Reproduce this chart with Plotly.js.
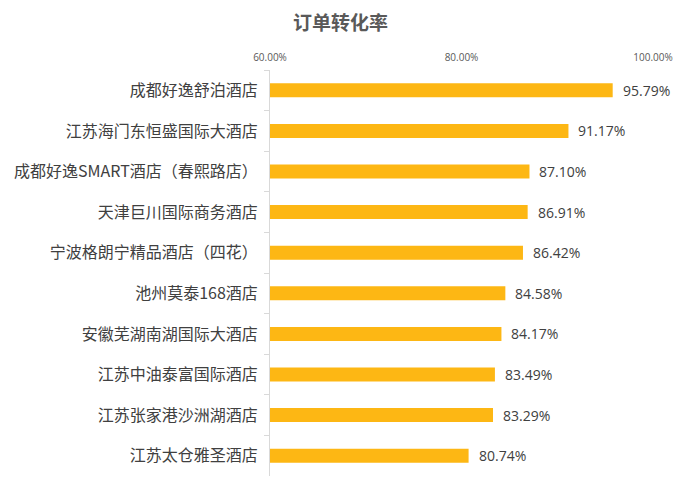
<!DOCTYPE html>
<html>
<head>
<meta charset="utf-8">
<script src="https://cdn.plot.ly/plotly-3.0.1.min.js"></script>
<style>html,body{margin:0;padding:0;background:#fff;}#chart{width:681px;height:492px;}</style>
</head>
<body>
<div id="chart"></div>
<script>
const hotels = [
  "成都好逸舒泊酒店",
  "江苏海门东恒盛国际大酒店",
  "成都好逸SMART酒店（春熙路店）",
  "天津巨川国际商务酒店",
  "宁波格朗宁精品酒店（四花）",
  "池州莫泰168酒店",
  "安徽芜湖南湖国际大酒店",
  "江苏中油泰富国际酒店",
  "江苏张家港沙洲湖酒店",
  "江苏太仓雅圣酒店"
];
const conversionRates = [0.9579, 0.9117, 0.8710, 0.8691, 0.8642, 0.8458, 0.8417, 0.8349, 0.8329, 0.8074];
const tickValues = [0.6, 0.8, 1.0];
const tickLabels = ["60.00%", "80.00%", "100.00%"];

const cjk = '"Microsoft YaHei", "Noto Sans CJK SC", sans-serif';

const trace = {
  type: 'bar',
  orientation: 'h',
  x: conversionRates,
  y: hotels,
  marker: {color: '#FDB714'},
  textposition: 'none',
  hoverinfo: 'skip',
  cliponaxis: false
};

const annotations = hotels.map((h, i) => ({
  x: conversionRates[i],
  y: h,
  xref: 'x',
  yref: 'y',
  text: (conversionRates[i] * 100).toFixed(2) + '%',
  showarrow: false,
  xanchor: 'left',
  xshift: 8,
  font: {family: '"Open Sans", sans-serif', size: 14, color: '#404040'}
}));

const layout = {
  width: 681,
  height: 492,
  margin: {l: 270, r: 28, t: 70, b: 16, pad: 0},
  paper_bgcolor: '#ffffff',
  plot_bgcolor: '#ffffff',
  showlegend: false,
  bargap: 0.655,
  title: {
    text: '订单转化率',
    x: 0.5,
    xref: 'container',
    xanchor: 'center',
    y: 0.953,
    yref: 'container',
    yanchor: 'middle',
    font: {family: cjk, size: 19, color: '#595959', weight: 'bold'}
  },
  xaxis: {
    side: 'top',
    range: [0.6, 1.0],
    tickvals: tickValues,
    ticktext: tickLabels,
    showgrid: false,
    zeroline: false,
    showline: false,
    ticks: '',
    ticklabelstandoff: 6,
    tickfont: {family: '"Open Sans", sans-serif', size: 10, color: '#595959'},
    fixedrange: true
  },
  yaxis: {
    type: 'category',
    autorange: 'reversed',
    showline: true,
    linecolor: '#d9d9d9',
    linewidth: 1,
    ticks: 'outside',
    tickson: 'boundaries',
    ticklen: 5,
    tickcolor: '#d9d9d9',
    showgrid: false,
    zeroline: false,
    ticklabelstandoff: 8,
    tickfont: {family: cjk, size: 16, color: '#404040'},
    fixedrange: true
  },
  annotations: annotations
};

Plotly.newPlot('chart', [trace], layout, {displayModeBar: false, staticPlot: true});
</script>
</body>
</html>
